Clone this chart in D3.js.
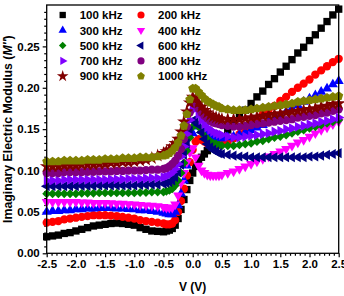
<!DOCTYPE html>
<html lang="en">
<head>
<meta charset="UTF-8" />
<title>Imaginary Electric Modulus</title>
<script src="https://cdn.jsdelivr.net/npm/d3@7"></script>
<style>
  body { margin: 0; background: #fff; }
  svg text { font-family: "Liberation Sans", Arial, sans-serif; font-weight: bold; fill: #000; }
</style>
</head>
<body>
<svg id="chart" width="344" height="296"></svg>
<script>
// bias voltage (V) shared by every frequency
var volts = [-2.5,-2.4,-2.3,-2.2,-2.1,-2.0,-1.9,-1.8,-1.7,-1.6,-1.5,-1.4,-1.3,-1.2,-1.1,-1.0,-0.9,-0.8,-0.7,-0.6,
  -0.5,-0.45,-0.4,-0.35,-0.3,-0.25,-0.2,-0.15,-0.1,-0.05,0,0.05,0.1,0.15,0.2,0.25,0.3,0.35,0.4,0.45,0.5,
  0.6,0.7,0.8,0.9,1.0,1.1,1.2,1.3,1.4,1.5,1.6,1.7,1.8,1.9,2.0,2.1,2.2,2.3,2.4,2.5];

// M'', one array per frequency
var m100 = [0.020,0.021,0.022,0.024,0.025,0.027,0.029,0.031,0.033,0.034,0.035,0.036,0.0365,0.036,0.035,0.034,0.031,0.029,0.027,0.0265,
  0.026,0.027,0.028,0.030,0.034,0.042,0.053,0.065,0.077,0.088,0.097,0.105,0.111,0.116,0.120,0.124,0.127,0.131,0.134,0.138,0.141,
  0.149,0.157,0.165,0.173,0.181,0.189,0.196,0.204,0.211,0.219,0.226,0.234,0.242,0.249,0.257,0.264,0.272,0.280,0.288,0.295];
var m200 = [0.037,0.038,0.039,0.041,0.042,0.043,0.044,0.045,0.046,0.046,0.046,0.0455,0.045,0.044,0.043,0.042,0.040,0.039,0.038,0.037,
  0.036,0.035,0.035,0.036,0.040,0.050,0.063,0.078,0.094,0.110,0.125,0.135,0.138,0.137,0.135,0.133,0.132,0.131,0.131,0.131,0.132,
  0.135,0.139,0.144,0.150,0.156,0.162,0.168,0.173,0.178,0.184,0.189,0.195,0.200,0.205,0.210,0.216,0.221,0.226,0.231,0.235];
var m300 = [0.050,0.051,0.051,0.052,0.052,0.053,0.053,0.054,0.054,0.0545,0.0545,0.0545,0.054,0.054,0.0535,0.053,0.052,0.052,0.051,0.050,
  0.049,0.048,0.047,0.047,0.050,0.058,0.072,0.088,0.106,0.125,0.145,0.155,0.153,0.149,0.146,0.143,0.141,0.140,0.139,0.139,0.139,
  0.140,0.141,0.143,0.146,0.149,0.152,0.155,0.159,0.163,0.167,0.171,0.175,0.179,0.183,0.187,0.191,0.195,0.199,0.204,0.208];
var m400 = [0.062,0.062,0.062,0.062,0.062,0.062,0.0615,0.0615,0.061,0.061,0.061,0.0605,0.060,0.060,0.0595,0.059,0.0585,0.058,0.0575,0.057,
  0.056,0.055,0.055,0.055,0.059,0.070,0.085,0.097,0.110,0.122,0.127,0.116,0.106,0.100,0.097,0.095,0.094,0.094,0.094,0.094,0.095,
  0.097,0.099,0.102,0.105,0.108,0.111,0.114,0.117,0.120,0.123,0.126,0.130,0.134,0.137,0.141,0.145,0.149,0.152,0.156,0.159];
var m500 = [0.072,0.072,0.072,0.072,0.072,0.072,0.0725,0.0725,0.0725,0.073,0.073,0.073,0.073,0.073,0.073,0.073,0.0735,0.0735,0.074,0.074,
  0.074,0.075,0.076,0.078,0.082,0.088,0.097,0.109,0.124,0.140,0.153,0.158,0.153,0.147,0.142,0.138,0.135,0.133,0.132,0.131,0.130,
  0.130,0.130,0.131,0.132,0.133,0.135,0.136,0.138,0.140,0.141,0.143,0.145,0.147,0.149,0.151,0.153,0.155,0.157,0.159,0.161];
var m600 = [0.081,0.081,0.081,0.081,0.081,0.081,0.0815,0.0815,0.0815,0.082,0.082,0.082,0.082,0.082,0.082,0.082,0.0825,0.0825,0.083,0.083,
  0.084,0.085,0.086,0.088,0.092,0.098,0.107,0.119,0.133,0.148,0.160,0.162,0.155,0.146,0.138,0.132,0.128,0.125,0.123,0.121,0.120,
  0.119,0.118,0.117,0.117,0.116,0.116,0.116,0.116,0.116,0.116,0.116,0.116,0.116,0.116,0.117,0.117,0.118,0.119,0.120,0.121];
var m700 = [0.088,0.088,0.088,0.089,0.089,0.089,0.089,0.089,0.089,0.089,0.089,0.0895,0.0895,0.0895,0.090,0.090,0.090,0.0905,0.091,0.091,
  0.092,0.093,0.095,0.098,0.102,0.108,0.117,0.129,0.144,0.161,0.174,0.175,0.168,0.161,0.156,0.152,0.149,0.147,0.145,0.144,0.143,
  0.141,0.140,0.140,0.141,0.142,0.143,0.144,0.145,0.147,0.148,0.150,0.151,0.153,0.154,0.156,0.157,0.159,0.160,0.162,0.164];
var m800 = [0.097,0.097,0.097,0.098,0.098,0.098,0.098,0.0985,0.0985,0.099,0.099,0.099,0.0995,0.0995,0.100,0.100,0.100,0.1005,0.101,0.101,
  0.102,0.103,0.105,0.108,0.112,0.118,0.126,0.138,0.153,0.170,0.182,0.181,0.175,0.170,0.166,0.163,0.160,0.158,0.157,0.156,0.155,
  0.154,0.153,0.153,0.154,0.155,0.156,0.157,0.158,0.159,0.160,0.161,0.162,0.164,0.165,0.166,0.167,0.169,0.170,0.172,0.174];
var m900 = [0.105,0.105,0.105,0.106,0.106,0.106,0.107,0.107,0.107,0.108,0.108,0.109,0.109,0.110,0.110,0.111,0.112,0.113,0.115,0.118,
  0.121,0.123,0.125,0.129,0.133,0.138,0.147,0.159,0.171,0.182,0.189,0.187,0.182,0.177,0.173,0.170,0.167,0.165,0.164,0.163,0.162,
  0.162,0.162,0.162,0.163,0.164,0.165,0.166,0.167,0.168,0.169,0.170,0.171,0.172,0.173,0.174,0.175,0.177,0.178,0.180,0.181];
var m1000 = [0.111,0.111,0.111,0.112,0.112,0.112,0.112,0.113,0.113,0.113,0.114,0.114,0.114,0.115,0.115,0.115,0.116,0.116,0.116,0.117,
  0.118,0.119,0.121,0.124,0.128,0.134,0.142,0.154,0.168,0.186,0.199,0.199,0.195,0.191,0.187,0.184,0.182,0.180,0.178,0.177,0.175,
  0.174,0.173,0.173,0.173,0.174,0.175,0.176,0.177,0.178,0.179,0.180,0.181,0.183,0.184,0.185,0.186,0.187,0.188,0.189,0.190];

var freqNames = ["100 kHz","200 kHz","300 kHz","400 kHz","500 kHz","600 kHz","700 kHz","800 kHz","900 kHz","1000 kHz"];
var xTicks = [-2.5,-2.0,-1.5,-1.0,-0.5,0.0,0.5,1.0,1.5,2.0,2.5];
var yTicks = [0.00,0.05,0.10,0.15,0.20,0.25];

var w = 344, h = 296;
var pl = 46.7, pr = 338.7, pt = 5, pb = 253.3;

var svg = d3.select("#chart");

var xScale = d3.scaleLinear().domain([-2.5, 2.5]).range([pl, pr]);
var yScale = d3.scaleLinear().domain([0, 0.3]).range([pb, pt]);

// pentagon marker, origin has it, d3 does not
var symbolPentagon = {
  draw: function(ctx, size) {
    var r = Math.sqrt(size / 2.378);
    for (var i = 0; i < 5; i++) {
      var a = -Math.PI / 2 + i * 2 * Math.PI / 5;
      if (i === 0) ctx.moveTo(r * Math.cos(a), r * Math.sin(a));
      else ctx.lineTo(r * Math.cos(a), r * Math.sin(a));
    }
    ctx.closePath();
  }
};

// marker style per series: [shape, rotation, area on plot, area in legend, colour]
var styles = [
  [d3.symbolSquare, 0, 54, 40, "#000000"],
  [d3.symbolCircle, 0, 54, 40, "#FF0000"],
  [d3.symbolTriangle, 0, 44, 30, "#0000FF"],
  [d3.symbolTriangle, 180, 44, 30, "#FF00FF"],
  [d3.symbolSquare, 45, 40, 28, "#008000"],
  [d3.symbolTriangle, -90, 44, 30, "#000080"],
  [d3.symbolTriangle, 90, 44, 30, "#8000FF"],
  [d3.symbolCircle, 0, 54, 40, "#800080"],
  [d3.symbolStar, 0, 58, 42, "#800000"],
  [symbolPentagon, 0, 54, 40, "#808000"]
];

var series = [m100, m200, m300, m400, m500, m600, m700, m800, m900, m1000];

// axes: ticks outward, then minor ticks
var xAxis = d3.axisBottom(xScale).tickValues(xTicks).tickSize(4).tickSizeOuter(0)
  .tickPadding(3).tickFormat(function(d) { return d.toFixed(1); });
var gx = svg.append("g").attr("transform", "translate(0," + pb + ")").call(xAxis);
gx.select(".domain").remove();

var xMinor = [];
for (var i = 0; i < xTicks.length - 1; i++)
  for (var k = 1; k < 6; k++) xMinor.push(xTicks[i] + k * (xTicks[i + 1] - xTicks[i]) / 6);
svg.append("g").attr("transform", "translate(0," + pb + ")")
  .call(d3.axisBottom(xScale).tickValues(xMinor).tickSize(2.5).tickSizeOuter(0).tickFormat(""))
  .select(".domain").remove();

var yAxis = d3.axisLeft(yScale).tickValues(yTicks).tickSize(4).tickSizeOuter(0)
  .tickPadding(3).tickFormat(function(d) { return d.toFixed(2); });
var gy = svg.append("g").attr("transform", "translate(" + pl + ",0)").call(yAxis);
gy.select(".domain").remove();

var yMinor = [];
for (var i = 0; i < yTicks.length - 1; i++)
  for (var k = 1; k < 6; k++) yMinor.push(yTicks[i] + k * (yTicks[i + 1] - yTicks[i]) / 6);
for (var k = 1; k < 6; k++) yMinor.push(0.25 + k * 0.05 / 6);
svg.append("g").attr("transform", "translate(" + pl + ",0)")
  .call(d3.axisLeft(yScale).tickValues(yMinor.filter(function(v) { return v < 0.299; }))
    .tickSize(2.5).tickSizeOuter(0).tickFormat(""))
  .select(".domain").remove();

svg.selectAll(".tick line").attr("stroke", "#000").attr("stroke-width", 1.2);
svg.selectAll(".tick text").style("font-size", "11.5px").style("font-family", "'Liberation Sans', Arial, sans-serif")
  .style("font-weight", "bold").attr("fill", "#000");

// data markers
series.forEach(function(vals, s) {
  var st = styles[s];
  var sym = d3.symbol().type(st[0]).size(st[2]);
  svg.append("g").selectAll("path")
    .data(vals)
    .enter()
    .append("path")
    .attr("d", sym)
    .attr("fill", st[4])
    .attr("transform", function(d, i) {
      return "translate(" + xScale(volts[i]) + "," + yScale(d) + ") rotate(" + st[1] + ")";
    });
});

// frame
svg.append("rect")
  .attr("x", pl).attr("y", pt)
  .attr("width", pr - pl).attr("height", pb - pt)
  .attr("fill", "none").attr("stroke", "#000").attr("stroke-width", 1.3);

// legend, two columns
var legend = svg.append("g");
freqNames.forEach(function(name, s) {
  var col = s % 2, row = Math.floor(s / 2);
  var mx = col === 0 ? 62.7 : 141;
  var my = 15 + row * 15.3;
  var st = styles[s];
  legend.append("path")
    .attr("d", d3.symbol().type(st[0]).size(st[3])())
    .attr("fill", st[4])
    .attr("transform", "translate(" + mx + "," + my + ") rotate(" + st[1] + ")");
  legend.append("text")
    .attr("x", mx + 17).attr("y", my + 4.2)
    .style("font-size", "11.5px")
    .text(name);
});

// axis titles
svg.append("text")
  .attr("x", (pl + pr) / 2).attr("y", 291)
  .attr("text-anchor", "middle")
  .style("font-size", "12px")
  .text("V (V)");

var yt = svg.append("text")
  .attr("transform", "translate(12," + (pt + pb) / 2 + ") rotate(-90)")
  .attr("text-anchor", "middle")
  .style("font-size", "12.3px");
yt.append("tspan").text("Imaginary Electric Modulus (");
yt.append("tspan").style("font-style", "italic").text("M''");
yt.append("tspan").text(")");
</script>
</body>
</html>
